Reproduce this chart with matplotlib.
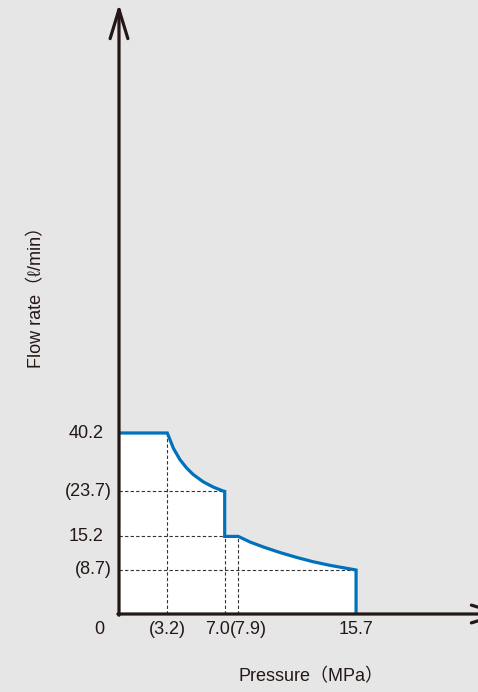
import numpy as np
import matplotlib
matplotlib.use("Agg")
import matplotlib.pyplot as plt

plt.rcParams['font.family'] = ['Liberation Sans', 'Noto Sans CJK JP', 'DejaVu Sans']

# Curve (pressure MPa, flow l/min)
pressure = [0, 3.2, 3.6, 4.04, 4.48, 4.92, 5.58, 6.25, 6.9, 7.0,
            7.0, 7.9, 8.68, 9.56, 10.66, 11.77, 12.87, 13.97, 14.85, 15.7, 15.7]
flow = [40.2, 40.2, 35.9, 32.65, 30.3, 28.45, 26.4, 24.9, 23.8, 23.7,
        15.2, 15.2, 14.11, 13.15, 12.08, 11.13, 10.29, 9.6, 9.14, 8.7, 0]

# dashed guides
guide_h = [(23.7, 7.0), (15.2, 7.0), (8.7, 15.7)]   # (flow, up to pressure)
guide_v = [(3.2, 40.2), (7.0, 15.2), (7.9, 15.2)]   # (pressure, up to flow)

y_ticks = [40.2, 23.7, 15.2, 8.7]
y_labels = ["40.2", "(23.7)", "15.2", "(8.7)"]
x_ticks = [0, 3.2, 7.0, 7.9, 15.7]
x_labels = ["0", "(3.2)", "7.0", "(7.9)", "15.7"]

# schematic (non-linear) flow axis
y_knots = [0, 8.7, 15.2, 23.7, 40.2, 200]
y_px = [0, 44, 77.6, 122.6, 181, 980]

def fwd(v):
    return np.interp(v, y_knots, y_px)

def inv(p):
    return np.interp(p, y_px, y_knots)

bg = "#e6e6e6"
ink = "#231815"
blue = "#0071bc"

fig = plt.figure(figsize=(4.78, 6.92), dpi=100, facecolor=bg)
ax = fig.add_axes([119 / 478, 78 / 692, 387 / 478, 610 / 692])
ax.set_facecolor(bg)
ax.set_yscale('function', functions=(fwd, inv))
ax.set_xlim(0, 387 / 15.1)
ax.set_ylim(0, inv(610))
ax.axis('off')

ax.fill_between(pressure, flow, 0, color="white", lw=0, zorder=1)

for fy, px in guide_h:
    ax.plot([0, px], [fy, fy], color="#333333", lw=0.8, ls=(0, (3, 2)), zorder=2)
for px, fy in guide_v:
    ax.plot([px, px], [0, fy], color="#333333", lw=0.8, ls=(0, (3, 2)), zorder=2)

ax.plot(pressure, flow, color=blue, lw=2.3, zorder=3, solid_joinstyle='miter')

arrow = dict(arrowstyle='->,head_length=1.05,head_width=0.32', lw=2.3, color=ink,
             mutation_scale=20, shrinkA=0, shrinkB=0)
ax.annotate('', xy=(0, 1), xytext=(0, -0.002), xycoords='axes fraction',
            arrowprops=arrow, annotation_clip=False, zorder=5)
ax.annotate('', xy=(1, 0), xytext=(-0.003, 0), xycoords='axes fraction',
            arrowprops=arrow, annotation_clip=False, zorder=5)

# tick labels
for v, lab in zip(y_ticks, y_labels):
    dx = -5.3 if lab.startswith("(") else -10.8
    ax.annotate(lab, xy=(0, v), xycoords=('axes fraction', 'data'),
                xytext=(dx, 0), textcoords='offset points',
                ha='right', va='center', fontsize=13, color=ink)

x_off = {"0": (-14.4, 'center'), "7.0": (3.8, 'right'), "(7.9)": (-6.0, 'left')}
for v, lab in zip(x_ticks, x_labels):
    dx, ha = x_off.get(lab, (0, 'center'))
    ax.annotate(lab, xy=(v, 0), xycoords=('data', 'axes fraction'),
                xytext=(dx, -11.5), textcoords='offset points',
                ha=ha, va='center', fontsize=13, color=ink)

fig.text(311 / 478, 1 - 677 / 692, "Pressure（MPa）", ha='center', va='center',
         fontsize=13, color=ink)
fig.text(37 / 478, 1 - 293 / 692, "Flow rate（ℓ/min）", ha='center', va='center',
         rotation=90, fontsize=13, color=ink)

fig.savefig("out.png", dpi=100, facecolor=bg)
